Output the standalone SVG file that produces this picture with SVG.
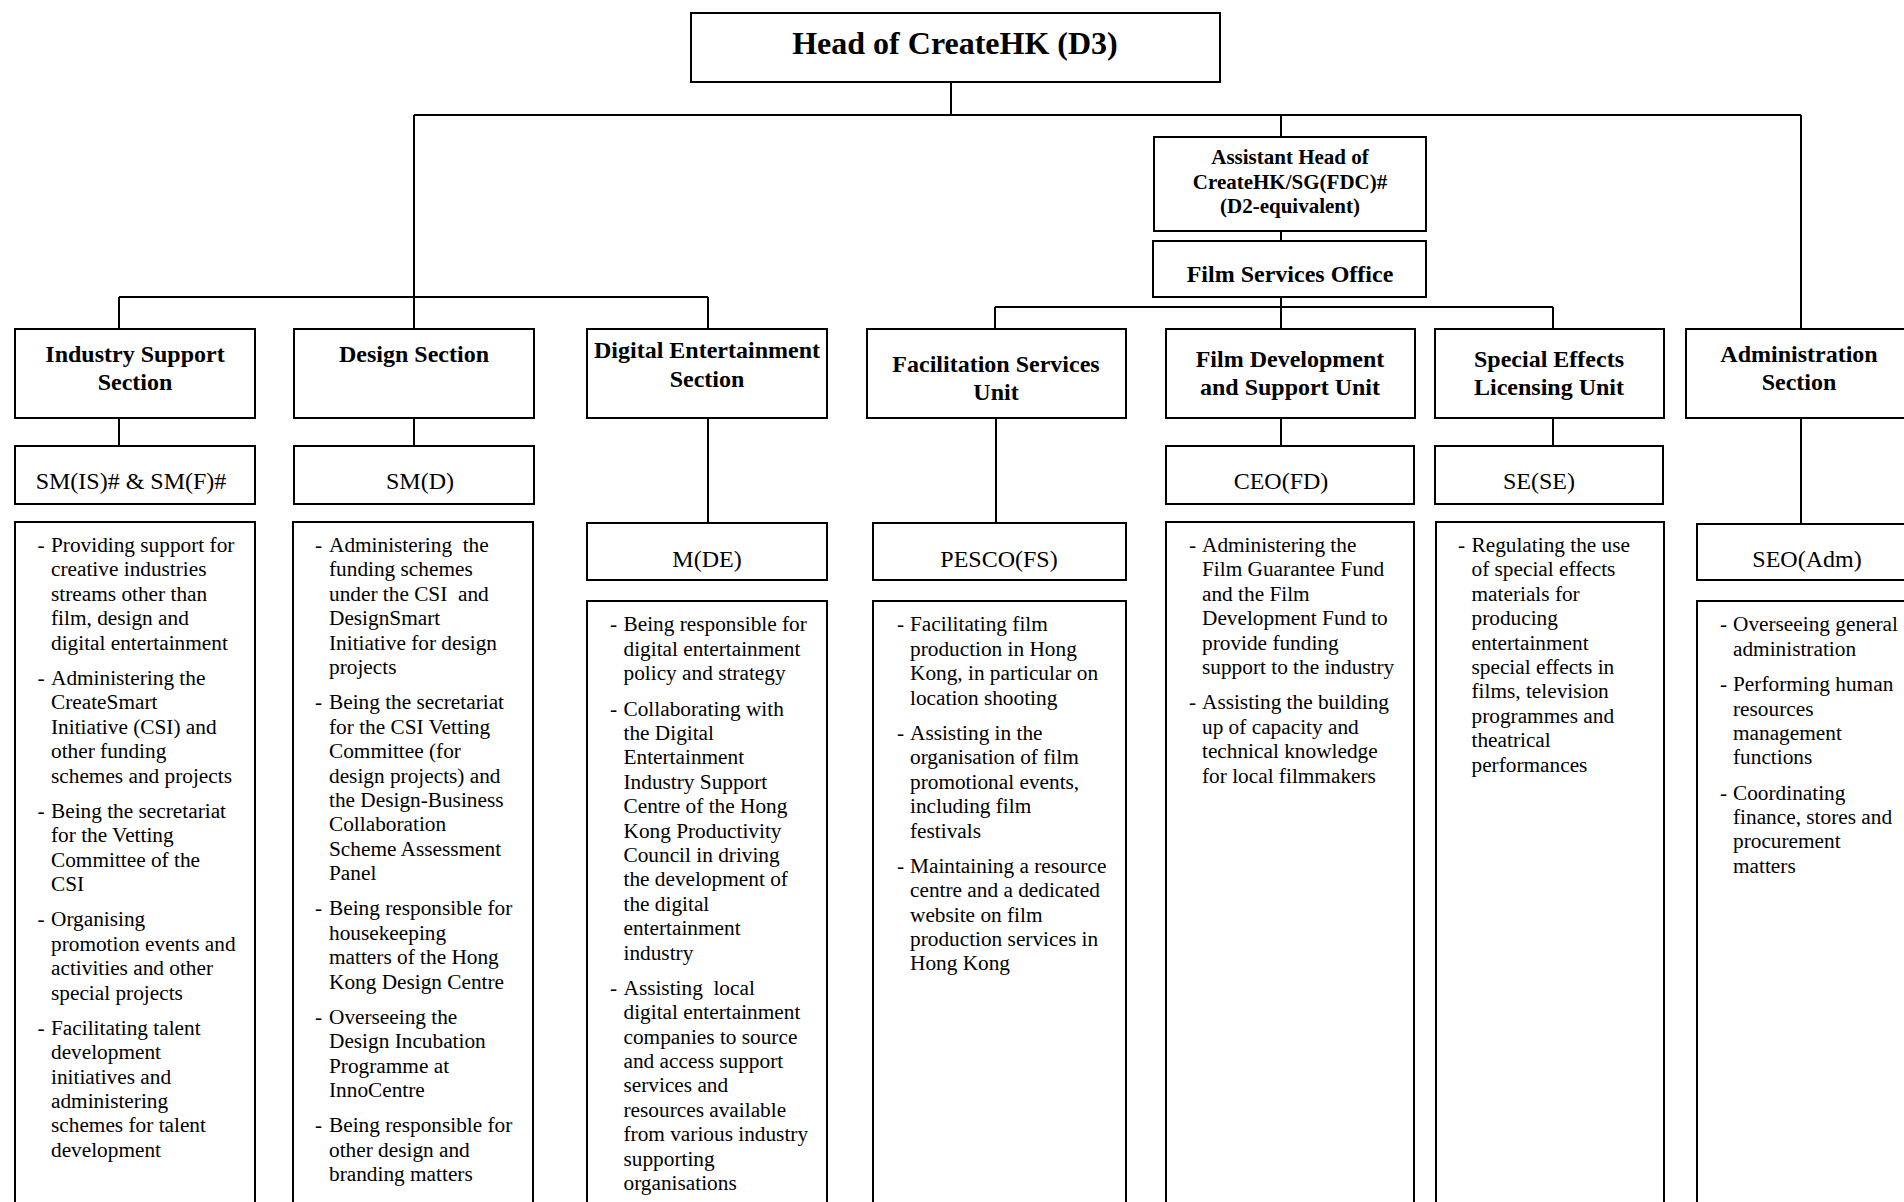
<svg xmlns="http://www.w3.org/2000/svg" width="1904" height="1202" viewBox="0 0 1904 1202">
<style>
  .box { fill: #fff; stroke: #000; stroke-width: 2; }
  .conn { fill: none; stroke: #000; stroke-width: 2; }
  .t { font-family: "Liberation Serif", "Times New Roman", serif; fill: #000; }
  .head { font-size: 32px; font-weight: bold; text-anchor: middle; }
  .sec { font-size: 24px; font-weight: bold; text-anchor: middle; }
  .ah { font-size: 21px; font-weight: bold; text-anchor: middle; }
  .post { font-size: 24px; text-anchor: middle; }
  .d { font-size: 21.3px; white-space: pre; }
</style>
<rect width="1904" height="1202" fill="#fff"/>

<g id="connectors">
  <path class="conn" d="M951 82V115 M414 115H1801 M414 115V297 M119 297H708 M119 297V329 M414 297V329 M708 297V329 M1281 115V137 M1281 231V241 M1281 297V307 M995 307H1553 M995 307V329 M1281 307V329 M1553 307V329 M1801 115V329"/>
  <path class="conn" d="M119 418V446 M414 418V446 M708 418V523 M996 418V523 M1281 418V446 M1553 418V446 M1801 418V524"/>
</g>

<g id="head">
  <rect class="box" x="691" y="13" width="529" height="69"/>
  <text class="t head" x="955" y="54">Head of CreateHK (D3)</text>
</g>

<g id="assistant-head">
  <rect class="box" x="1154" y="137" width="272" height="94"/>
  <text class="t ah" x="1290" y="164">Assistant Head of</text>
  <text class="t ah" x="1290" y="188.5">CreateHK/SG(FDC)#</text>
  <text class="t ah" x="1290" y="213">(D2-equivalent)</text>
</g>

<g id="film-services-office">
  <rect class="box" x="1153" y="241" width="273" height="56"/>
  <text class="t sec" x="1290" y="282">Film Services Office</text>
</g>

<g id="industry-support">
  <rect class="box" x="15" y="329" width="240" height="89"/>
  <text class="t sec" x="135" y="362">Industry Support</text>
  <text class="t sec" x="135" y="390">Section</text>
</g>

<g id="design">
  <rect class="box" x="294" y="329" width="240" height="89"/>
  <text class="t sec" x="414" y="362">Design Section</text>
</g>

<g id="digital-entertainment">
  <rect class="box" x="587" y="329" width="240" height="89"/>
  <text class="t sec" x="707" y="358">Digital Entertainment</text>
  <text class="t sec" x="707" y="387">Section</text>
</g>

<g id="facilitation">
  <rect class="box" x="867" y="329" width="259" height="89"/>
  <text class="t sec" x="996" y="372">Facilitation Services</text>
  <text class="t sec" x="996" y="400">Unit</text>
</g>

<g id="film-development">
  <rect class="box" x="1166" y="329" width="249" height="89"/>
  <text class="t sec" x="1290" y="367">Film Development</text>
  <text class="t sec" x="1290" y="395">and Support Unit</text>
</g>

<g id="special-effects">
  <rect class="box" x="1435" y="329" width="229" height="89"/>
  <text class="t sec" x="1549" y="367">Special Effects</text>
  <text class="t sec" x="1549" y="395">Licensing Unit</text>
</g>

<g id="administration">
  <rect class="box" x="1686" y="329" width="230" height="89"/>
  <text class="t sec" x="1799" y="362">Administration</text>
  <text class="t sec" x="1799" y="390">Section</text>
</g>

<g id="sm-is">
  <rect class="box" x="15" y="446" width="240" height="58"/>
  <text class="t post" x="131" y="489">SM(IS)# &amp; SM(F)#</text>
</g>
<g id="sm-d">
  <rect class="box" x="294" y="446" width="240" height="58"/>
  <text class="t post" x="420" y="489">SM(D)</text>
</g>
<g id="ceo-fd">
  <rect class="box" x="1166" y="446" width="248" height="58"/>
  <text class="t post" x="1281" y="489">CEO(FD)</text>
</g>
<g id="se-se">
  <rect class="box" x="1435" y="446" width="228" height="58"/>
  <text class="t post" x="1539" y="489">SE(SE)</text>
</g>
<g id="m-de">
  <rect class="box" x="587" y="523" width="240" height="57"/>
  <text class="t post" x="707" y="566.5">M(DE)</text>
</g>
<g id="pesco-fs">
  <rect class="box" x="873" y="523" width="253" height="57"/>
  <text class="t post" x="999" y="566.5">PESCO(FS)</text>
</g>
<g id="seo-adm">
  <rect class="box" x="1697" y="524" width="220" height="56"/>
  <text class="t post" x="1807" y="566.5">SEO(Adm)</text>
</g>

<g id="duties-industry-support">
  <rect class="box" x="15" y="522" width="240" height="700"/>
  <text class="t d">
    <tspan x="37.6" y="552">-</tspan><tspan x="51" y="552">Providing support for</tspan><tspan x="51" y="576.4">creative industries</tspan><tspan x="51" y="600.8">streams other than</tspan><tspan x="51" y="625.2">film, design and</tspan><tspan x="51" y="649.6">digital entertainment</tspan>
    <tspan x="37.6" y="684.9">-</tspan><tspan x="51" y="684.9">Administering the</tspan><tspan x="51" y="709.3">CreateSmart</tspan><tspan x="51" y="733.7">Initiative (CSI) and</tspan><tspan x="51" y="758.1">other funding</tspan><tspan x="51" y="782.5">schemes and projects</tspan>
    <tspan x="37.6" y="817.8">-</tspan><tspan x="51" y="817.8">Being the secretariat</tspan><tspan x="51" y="842.2">for the Vetting</tspan><tspan x="51" y="866.6">Committee of the</tspan><tspan x="51" y="891">CSI</tspan>
    <tspan x="37.6" y="926.3">-</tspan><tspan x="51" y="926.3">Organising</tspan><tspan x="51" y="950.7">promotion events and</tspan><tspan x="51" y="975.1">activities and other</tspan><tspan x="51" y="999.5">special projects</tspan>
    <tspan x="37.6" y="1034.8">-</tspan><tspan x="51" y="1034.8">Facilitating talent</tspan><tspan x="51" y="1059.2">development</tspan><tspan x="51" y="1083.6">initiatives and</tspan><tspan x="51" y="1108">administering</tspan><tspan x="51" y="1132.4">schemes for talent</tspan><tspan x="51" y="1156.8">development</tspan>
  </text>
</g>

<g id="duties-design">
  <rect class="box" x="293" y="522" width="240" height="700"/>
  <text class="t d">
    <tspan x="315" y="552">-</tspan><tspan x="329" y="552">Administering  the</tspan><tspan x="329" y="576.4">funding schemes</tspan><tspan x="329" y="600.8">under the CSI  and</tspan><tspan x="329" y="625.2">DesignSmart</tspan><tspan x="329" y="649.6">Initiative for design</tspan><tspan x="329" y="674">projects</tspan>
    <tspan x="315" y="709.3">-</tspan><tspan x="329" y="709.3">Being the secretariat</tspan><tspan x="329" y="733.7">for the CSI Vetting</tspan><tspan x="329" y="758.1">Committee (for</tspan><tspan x="329" y="782.5">design projects) and</tspan><tspan x="329" y="806.9">the Design-Business</tspan><tspan x="329" y="831.3">Collaboration</tspan><tspan x="329" y="855.7">Scheme Assessment</tspan><tspan x="329" y="880.1">Panel</tspan>
    <tspan x="315" y="915.4">-</tspan><tspan x="329" y="915.4">Being responsible for</tspan><tspan x="329" y="939.8">housekeeping</tspan><tspan x="329" y="964.2">matters of the Hong</tspan><tspan x="329" y="988.6">Kong Design Centre</tspan>
    <tspan x="315" y="1023.9">-</tspan><tspan x="329" y="1023.9">Overseeing the</tspan><tspan x="329" y="1048.3">Design Incubation</tspan><tspan x="329" y="1072.7">Programme at</tspan><tspan x="329" y="1097.1">InnoCentre</tspan>
    <tspan x="315" y="1132.4">-</tspan><tspan x="329" y="1132.4">Being responsible for</tspan><tspan x="329" y="1156.8">other design and</tspan><tspan x="329" y="1181.2">branding matters</tspan>
  </text>
</g>

<g id="duties-digital-entertainment">
  <rect class="box" x="587" y="601" width="240" height="620"/>
  <text class="t d">
    <tspan x="610" y="631.4">-</tspan><tspan x="623.5" y="631.4">Being responsible for</tspan><tspan x="623.5" y="655.8">digital entertainment</tspan><tspan x="623.5" y="680.2">policy and strategy</tspan>
    <tspan x="610" y="715.5">-</tspan><tspan x="623.5" y="715.5">Collaborating with</tspan><tspan x="623.5" y="739.9">the Digital</tspan><tspan x="623.5" y="764.3">Entertainment</tspan><tspan x="623.5" y="788.7">Industry Support</tspan><tspan x="623.5" y="813.1">Centre of the Hong</tspan><tspan x="623.5" y="837.5">Kong Productivity</tspan><tspan x="623.5" y="861.9">Council in driving</tspan><tspan x="623.5" y="886.3">the development of</tspan><tspan x="623.5" y="910.7">the digital</tspan><tspan x="623.5" y="935.1">entertainment</tspan><tspan x="623.5" y="959.5">industry</tspan>
    <tspan x="610" y="994.8">-</tspan><tspan x="623.5" y="994.8">Assisting  local</tspan><tspan x="623.5" y="1019.2">digital entertainment</tspan><tspan x="623.5" y="1043.6">companies to source</tspan><tspan x="623.5" y="1068">and access support</tspan><tspan x="623.5" y="1092.4">services and</tspan><tspan x="623.5" y="1116.8">resources available</tspan><tspan x="623.5" y="1141.2">from various industry</tspan><tspan x="623.5" y="1165.6">supporting</tspan><tspan x="623.5" y="1190">organisations</tspan>
  </text>
</g>

<g id="duties-facilitation">
  <rect class="box" x="873" y="601" width="253" height="620"/>
  <text class="t d">
    <tspan x="897" y="631.4">-</tspan><tspan x="910" y="631.4">Facilitating film</tspan><tspan x="910" y="655.8">production in Hong</tspan><tspan x="910" y="680.2">Kong, in particular on</tspan><tspan x="910" y="704.6">location shooting</tspan>
    <tspan x="897" y="739.9">-</tspan><tspan x="910" y="739.9">Assisting in the</tspan><tspan x="910" y="764.3">organisation of film</tspan><tspan x="910" y="788.7">promotional events,</tspan><tspan x="910" y="813.1">including film</tspan><tspan x="910" y="837.5">festivals</tspan>
    <tspan x="897" y="872.8">-</tspan><tspan x="910" y="872.8">Maintaining a resource</tspan><tspan x="910" y="897.2">centre and a dedicated</tspan><tspan x="910" y="921.6">website on film</tspan><tspan x="910" y="946">production services in</tspan><tspan x="910" y="970.4">Hong Kong</tspan>
  </text>
</g>

<g id="duties-film-development">
  <rect class="box" x="1166" y="522" width="248" height="700"/>
  <text class="t d">
    <tspan x="1189" y="552">-</tspan><tspan x="1202" y="552">Administering the</tspan><tspan x="1202" y="576.4">Film Guarantee Fund</tspan><tspan x="1202" y="600.8">and the Film</tspan><tspan x="1202" y="625.2">Development Fund to</tspan><tspan x="1202" y="649.6">provide funding</tspan><tspan x="1202" y="674">support to the industry</tspan>
    <tspan x="1189" y="709.3">-</tspan><tspan x="1202" y="709.3">Assisting the building</tspan><tspan x="1202" y="733.7">up of capacity and</tspan><tspan x="1202" y="758.1">technical knowledge</tspan><tspan x="1202" y="782.5">for local filmmakers</tspan>
  </text>
</g>

<g id="duties-special-effects">
  <rect class="box" x="1436" y="522" width="228" height="700"/>
  <text class="t d">
    <tspan x="1458" y="552">-</tspan><tspan x="1471.5" y="552">Regulating the use</tspan><tspan x="1471.5" y="576.4">of special effects</tspan><tspan x="1471.5" y="600.8">materials for</tspan><tspan x="1471.5" y="625.2">producing</tspan><tspan x="1471.5" y="649.6">entertainment</tspan><tspan x="1471.5" y="674">special effects in</tspan><tspan x="1471.5" y="698.4">films, television</tspan><tspan x="1471.5" y="722.8">programmes and</tspan><tspan x="1471.5" y="747.2">theatrical</tspan><tspan x="1471.5" y="771.6">performances</tspan>
  </text>
</g>

<g id="duties-administration">
  <rect class="box" x="1697" y="601" width="220" height="620"/>
  <text class="t d">
    <tspan x="1720" y="631.4">-</tspan><tspan x="1733" y="631.4">Overseeing general</tspan><tspan x="1733" y="655.8">administration</tspan>
    <tspan x="1720" y="691.1">-</tspan><tspan x="1733" y="691.1">Performing human</tspan><tspan x="1733" y="715.5">resources</tspan><tspan x="1733" y="739.9">management</tspan><tspan x="1733" y="764.3">functions</tspan>
    <tspan x="1720" y="799.6">-</tspan><tspan x="1733" y="799.6">Coordinating</tspan><tspan x="1733" y="824">finance, stores and</tspan><tspan x="1733" y="848.4">procurement</tspan><tspan x="1733" y="872.8">matters</tspan>
  </text>
</g>
</svg>
